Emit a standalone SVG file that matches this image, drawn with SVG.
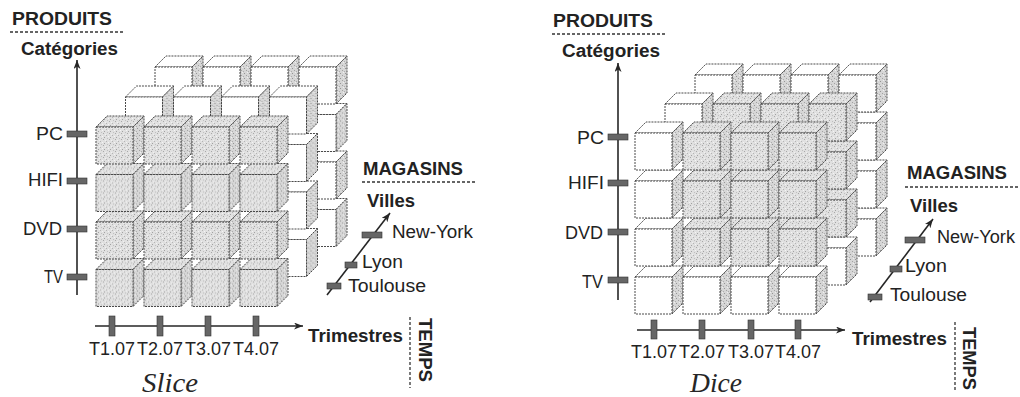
<svg xmlns="http://www.w3.org/2000/svg" xmlns:xlink="http://www.w3.org/1999/xlink" width="1020" height="397" viewBox="0 0 1020 397">
<style>
.w{fill:#ffffff}
.g{fill:url(#stip)}
.s{fill:url(#stipS)}
.cube polygon,.cube rect{stroke:#4a4a4a;stroke-width:1;stroke-dasharray:2 1;stroke-linejoin:round}
.lbl{font-family:"Liberation Sans",Arial,sans-serif;font-size:18px;fill:#222}
.b{font-weight:bold}
.ttl{font-family:"Liberation Serif","Times New Roman",serif;font-style:italic;font-size:27px;fill:#262626}
.axis{stroke:#262626;stroke-width:1.6;fill:none}
.dash{stroke:#333;stroke-width:1.3;stroke-dasharray:3 2;fill:none}
.tick{fill:#666;stroke:#333;stroke-width:0.6}
</style>
<defs>
<pattern id="stip" width="6" height="6" patternUnits="userSpaceOnUse">
<rect width="6" height="6" fill="#e0e0e0"/>
<rect x="1" y="0" width="1" height="1" fill="#a8a8a8"/>
<rect x="4" y="2" width="1" height="1" fill="#b4b4b4"/>
<rect x="2" y="4" width="1" height="1" fill="#a2a2a2"/>
<rect x="5" y="5" width="1" height="1" fill="#c0c0c0"/>
<rect x="0" y="3" width="1" height="1" fill="#f4f4f4"/>
<rect x="3" y="1" width="1" height="1" fill="#f0f0f0"/>
</pattern>
<pattern id="stipS" width="5" height="5" patternUnits="userSpaceOnUse">
<rect width="5" height="5" fill="#d6d6d6"/>
<rect x="1" y="1" width="1" height="1" fill="#959595"/>
<rect x="3" y="3" width="1" height="1" fill="#a2a2a2"/>
<rect x="4" y="0" width="1" height="1" fill="#efefef"/>
<rect x="0" y="4" width="1" height="1" fill="#adadad"/>
</pattern>
<g id="cW" class="cube">
<polygon class="w" points="0,0 11,-11 48,-11 37,0"/>
<polygon class="s" points="37,0 48,-11 48,26 37,37"/>
<rect class="w" x="0" y="0" width="37" height="37"/>
</g>
<g id="cG" class="cube">
<polygon class="g" points="0,0 11,-11 48,-11 37,0"/>
<polygon class="s" points="37,0 48,-11 48,26 37,37"/>
<rect class="g" x="0" y="0" width="37" height="37"/>
</g>
<marker id="arr" markerUnits="userSpaceOnUse" markerWidth="10" markerHeight="8" refX="9" refY="3.5" orient="auto">
<path d="M0,0 L9,3.5 L0,7 L2.5,3.5 Z" fill="#262626"/>
</marker>
</defs>
<rect width="1020" height="397" fill="#ffffff"/>

<!-- SLICE cube -->
<g id="slice-cubes">
<g id="sL2">
<use href="#cW" x="155" y="209.5"/><use href="#cW" x="203" y="209.5"/><use href="#cW" x="251" y="209.5"/><use href="#cW" x="299" y="209.5"/>
<use href="#cW" x="155" y="162"/><use href="#cW" x="203" y="162"/><use href="#cW" x="251" y="162"/><use href="#cW" x="299" y="162"/>
<use href="#cW" x="155" y="114.5"/><use href="#cW" x="203" y="114.5"/><use href="#cW" x="251" y="114.5"/><use href="#cW" x="299" y="114.5"/>
<use href="#cW" x="155" y="67"/><use href="#cW" x="203" y="67"/><use href="#cW" x="251" y="67"/><use href="#cW" x="299" y="67"/>
</g>
<g id="sL1">
<use href="#cW" x="125.5" y="239.5"/><use href="#cW" x="173.5" y="239.5"/><use href="#cW" x="221.5" y="239.5"/><use href="#cW" x="269.5" y="239.5"/>
<use href="#cW" x="125.5" y="192"/><use href="#cW" x="173.5" y="192"/><use href="#cW" x="221.5" y="192"/><use href="#cW" x="269.5" y="192"/>
<use href="#cW" x="125.5" y="144.5"/><use href="#cW" x="173.5" y="144.5"/><use href="#cW" x="221.5" y="144.5"/><use href="#cW" x="269.5" y="144.5"/>
<use href="#cW" x="125.5" y="97"/><use href="#cW" x="173.5" y="97"/><use href="#cW" x="221.5" y="97"/><use href="#cW" x="269.5" y="97"/>
</g>
<g id="sL0">
<use href="#cG" x="96" y="269.5"/><use href="#cG" x="144" y="269.5"/><use href="#cG" x="192" y="269.5"/><use href="#cG" x="240" y="269.5"/>
<use href="#cG" x="96" y="222"/><use href="#cG" x="144" y="222"/><use href="#cG" x="192" y="222"/><use href="#cG" x="240" y="222"/>
<use href="#cG" x="96" y="174.5"/><use href="#cG" x="144" y="174.5"/><use href="#cG" x="192" y="174.5"/><use href="#cG" x="240" y="174.5"/>
<use href="#cG" x="96" y="127"/><use href="#cG" x="144" y="127"/><use href="#cG" x="192" y="127"/><use href="#cG" x="240" y="127"/>
</g>
</g>

<!-- DICE cube -->
<g id="dice-cubes">
<g id="dL2">
<use href="#cW" x="695" y="219"/><use href="#cW" x="743" y="219"/><use href="#cW" x="791" y="219"/><use href="#cW" x="839" y="219"/>
<use href="#cW" x="695" y="171"/><use href="#cW" x="743" y="171"/><use href="#cW" x="791" y="171"/><use href="#cW" x="839" y="171"/>
<use href="#cW" x="695" y="123"/><use href="#cW" x="743" y="123"/><use href="#cW" x="791" y="123"/><use href="#cW" x="839" y="123"/>
<use href="#cW" x="695" y="75"/><use href="#cW" x="743" y="75"/><use href="#cW" x="791" y="75"/><use href="#cW" x="839" y="75"/>
</g>
<g id="dL1">
<use href="#cW" x="665" y="248"/><use href="#cW" x="713" y="248"/><use href="#cW" x="761" y="248"/><use href="#cW" x="809" y="248"/>
<use href="#cW" x="665" y="200"/><use href="#cG" x="713" y="200"/><use href="#cG" x="761" y="200"/><use href="#cG" x="809" y="200"/>
<use href="#cW" x="665" y="152"/><use href="#cG" x="713" y="152"/><use href="#cG" x="761" y="152"/><use href="#cG" x="809" y="152"/>
<use href="#cW" x="665" y="104"/><use href="#cG" x="713" y="104"/><use href="#cG" x="761" y="104"/><use href="#cG" x="809" y="104"/>
</g>
<g id="dL0">
<use href="#cW" x="635" y="277"/><use href="#cW" x="683" y="277"/><use href="#cW" x="731" y="277"/><use href="#cW" x="779" y="277"/>
<use href="#cW" x="635" y="229"/><use href="#cG" x="683" y="229"/><use href="#cG" x="731" y="229"/><use href="#cG" x="779" y="229"/>
<use href="#cW" x="635" y="181"/><use href="#cG" x="683" y="181"/><use href="#cG" x="731" y="181"/><use href="#cG" x="779" y="181"/>
<use href="#cW" x="635" y="133"/><use href="#cG" x="683" y="133"/><use href="#cG" x="731" y="133"/><use href="#cG" x="779" y="133"/>
</g>
</g>

<!-- connectors: axes -->
<g id="connectors">
<line class="axis" x1="77" y1="295" x2="77" y2="60" marker-end="url(#arr)"/>
<line class="axis" x1="95" y1="326" x2="303" y2="326" marker-end="url(#arr)"/>
<line class="axis" x1="327" y1="295" x2="390" y2="213" marker-end="url(#arr)"/>
<line class="axis" x1="618" y1="300" x2="618" y2="63" marker-end="url(#arr)"/>
<line class="axis" x1="637" y1="330" x2="845" y2="330" marker-end="url(#arr)"/>
<line class="axis" x1="870" y1="302" x2="933" y2="219" marker-end="url(#arr)"/>
<line class="dash" x1="10" y1="32" x2="125" y2="32"/>
<line class="dash" x1="362" y1="182" x2="477" y2="182"/>
<line class="dash" x1="410" y1="317" x2="410" y2="388"/>
<line class="dash" x1="552" y1="34" x2="665" y2="34"/>
<line class="dash" x1="905" y1="187" x2="1020" y2="187"/>
<line class="dash" x1="955" y1="322" x2="955" y2="390"/>
</g>

<!-- ticks -->
<g id="ticks">
<rect class="tick" x="67" y="131" width="20" height="6"/>
<rect class="tick" x="67" y="178" width="20" height="6"/>
<rect class="tick" x="67" y="226" width="20" height="6"/>
<rect class="tick" x="67" y="274" width="20" height="6"/>
<rect class="tick" x="109" y="316" width="6" height="20"/>
<rect class="tick" x="157" y="316" width="6" height="20"/>
<rect class="tick" x="205" y="316" width="6" height="20"/>
<rect class="tick" x="253" y="316" width="6" height="20"/>
<rect class="tick" x="362" y="232" width="20" height="6"/>
<rect class="tick" x="345" y="262" width="12" height="6"/>
<rect class="tick" x="327" y="283" width="14" height="6"/>
<rect class="tick" x="608" y="134" width="20" height="6"/>
<rect class="tick" x="608" y="180" width="20" height="6"/>
<rect class="tick" x="608" y="229" width="20" height="6"/>
<rect class="tick" x="608" y="277" width="20" height="6"/>
<rect class="tick" x="651" y="320" width="6" height="19"/>
<rect class="tick" x="699" y="320" width="6" height="19"/>
<rect class="tick" x="748" y="320" width="6" height="19"/>
<rect class="tick" x="795" y="320" width="6" height="19"/>
<rect class="tick" x="905" y="237" width="20" height="6"/>
<rect class="tick" x="890" y="266" width="12" height="6"/>
<rect class="tick" x="868" y="294" width="14" height="6"/>
</g>

<!-- labels slice -->
<g id="slice-labels">
<text class="lbl b" x="12" y="25" textLength="100" lengthAdjust="spacingAndGlyphs">PRODUITS</text>
<text class="lbl b" x="21" y="55" textLength="97" lengthAdjust="spacingAndGlyphs">Catégories</text>
<text class="lbl" x="36" y="140" textLength="27" lengthAdjust="spacingAndGlyphs">PC</text>
<text class="lbl" x="28" y="186" textLength="35" lengthAdjust="spacingAndGlyphs">HIFI</text>
<text class="lbl" x="23" y="235" textLength="39" lengthAdjust="spacingAndGlyphs">DVD</text>
<text class="lbl" x="44" y="283" textLength="19" lengthAdjust="spacingAndGlyphs">TV</text>
<text class="lbl" x="112" y="355" text-anchor="middle" textLength="46" lengthAdjust="spacingAndGlyphs">T1.07</text>
<text class="lbl" x="160" y="355" text-anchor="middle" textLength="46" lengthAdjust="spacingAndGlyphs">T2.07</text>
<text class="lbl" x="208" y="355" text-anchor="middle" textLength="46" lengthAdjust="spacingAndGlyphs">T3.07</text>
<text class="lbl" x="256" y="355" text-anchor="middle" textLength="46" lengthAdjust="spacingAndGlyphs">T4.07</text>
<text class="lbl b" x="308" y="342" textLength="95" lengthAdjust="spacingAndGlyphs">Trimestres</text>
<text class="lbl b" transform="translate(419,318) rotate(90)" textLength="64" lengthAdjust="spacingAndGlyphs">TEMPS</text>
<text class="lbl b" x="363" y="175" textLength="100" lengthAdjust="spacingAndGlyphs">MAGASINS</text>
<text class="lbl b" x="367" y="207" textLength="48" lengthAdjust="spacingAndGlyphs">Villes</text>
<text class="lbl" x="392" y="238" textLength="81" lengthAdjust="spacingAndGlyphs">New-York</text>
<text class="lbl" x="362" y="268" textLength="41" lengthAdjust="spacingAndGlyphs">Lyon</text>
<text class="lbl" x="348" y="292" textLength="78" lengthAdjust="spacingAndGlyphs">Toulouse</text>
<text class="ttl" x="142" y="392" textLength="56" lengthAdjust="spacingAndGlyphs">Slice</text>
</g>

<!-- labels dice -->
<g id="dice-labels">
<text class="lbl b" x="553" y="27" textLength="100" lengthAdjust="spacingAndGlyphs">PRODUITS</text>
<text class="lbl b" x="562" y="57" textLength="98" lengthAdjust="spacingAndGlyphs">Catégories</text>
<text class="lbl" x="577" y="144" textLength="27" lengthAdjust="spacingAndGlyphs">PC</text>
<text class="lbl" x="568" y="189" textLength="36" lengthAdjust="spacingAndGlyphs">HIFI</text>
<text class="lbl" x="565" y="239" textLength="38" lengthAdjust="spacingAndGlyphs">DVD</text>
<text class="lbl" x="582" y="288" textLength="21" lengthAdjust="spacingAndGlyphs">TV</text>
<text class="lbl" x="654" y="358" text-anchor="middle" textLength="46" lengthAdjust="spacingAndGlyphs">T1.07</text>
<text class="lbl" x="702" y="358" text-anchor="middle" textLength="46" lengthAdjust="spacingAndGlyphs">T2.07</text>
<text class="lbl" x="751" y="358" text-anchor="middle" textLength="46" lengthAdjust="spacingAndGlyphs">T3.07</text>
<text class="lbl" x="798" y="358" text-anchor="middle" textLength="46" lengthAdjust="spacingAndGlyphs">T4.07</text>
<text class="lbl b" x="852" y="345" textLength="95" lengthAdjust="spacingAndGlyphs">Trimestres</text>
<text class="lbl b" transform="translate(963,327) rotate(90)" textLength="63" lengthAdjust="spacingAndGlyphs">TEMPS</text>
<text class="lbl b" x="907" y="179" textLength="100" lengthAdjust="spacingAndGlyphs">MAGASINS</text>
<text class="lbl b" x="910" y="212" textLength="48" lengthAdjust="spacingAndGlyphs">Villes</text>
<text class="lbl" x="937" y="243" textLength="78" lengthAdjust="spacingAndGlyphs">New-York</text>
<text class="lbl" x="905" y="272" textLength="42" lengthAdjust="spacingAndGlyphs">Lyon</text>
<text class="lbl" x="890" y="301" textLength="77" lengthAdjust="spacingAndGlyphs">Toulouse</text>
<text class="ttl" x="690" y="392" textLength="52" lengthAdjust="spacingAndGlyphs">Dice</text>
</g>
</svg>
